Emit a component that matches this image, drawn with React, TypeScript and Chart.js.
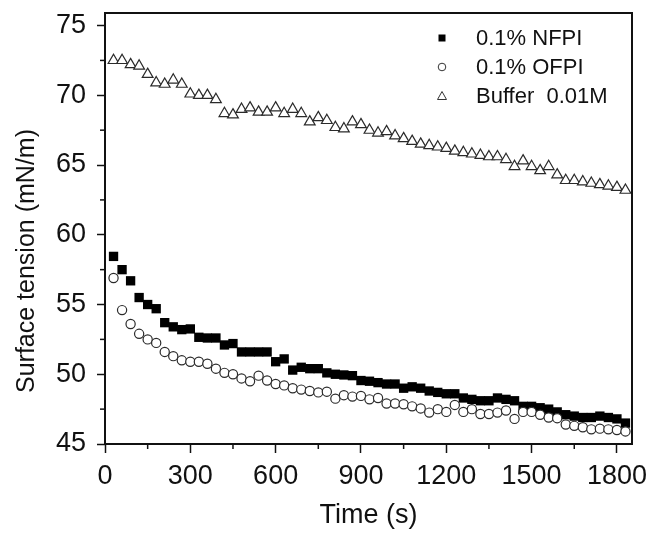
import React, { useEffect, useRef } from "react";
import { Chart, registerables } from "chart.js";

Chart.register(...registerables);

const TIMES = [
  30, 60, 90, 120, 150, 180, 210, 240, 270, 300, 330, 360, 390, 420, 450, 480, 510, 540, 570, 600,
  630, 660, 690, 720, 750, 780, 810, 840, 870, 900, 930, 960, 990, 1020, 1050, 1080, 1110, 1140,
  1170, 1200, 1230, 1260, 1290, 1320, 1350, 1380, 1410, 1440, 1470, 1500, 1530, 1560, 1590, 1620,
  1650, 1680, 1710, 1740, 1770, 1800, 1830,
];

const NFPI = [
  58.45, 57.5, 56.7, 55.5, 55.0, 54.7, 53.7, 53.4, 53.2, 53.25, 52.65, 52.6, 52.6, 52.1, 52.2, 51.6,
  51.6, 51.6, 51.6, 50.9, 51.1, 50.3, 50.5, 50.4, 50.4, 50.1, 50.0, 49.95, 49.9, 49.55, 49.5, 49.4,
  49.3, 49.3, 49.0, 49.1, 49.0, 48.8, 48.7, 48.6, 48.6, 48.3, 48.2, 48.1, 48.1, 48.3, 48.2, 48.1,
  47.7, 47.7, 47.6, 47.5, 47.3, 47.1, 47.0, 46.9, 46.9, 47.0, 46.9, 46.8, 46.5,
];

const OFPI = [
  56.9, 54.6, 53.6, 52.9, 52.5, 52.25, 51.6, 51.3, 51.0, 50.9, 50.9, 50.75, 50.4, 50.1, 50.0, 49.7,
  49.5, 49.9, 49.55, 49.3, 49.2, 49.0, 48.9, 48.8, 48.7, 48.75, 48.25, 48.5, 48.4, 48.45, 48.2, 48.3,
  47.9, 47.9, 47.85, 47.7, 47.55, 47.25, 47.5, 47.3, 47.8, 47.3, 47.5, 47.15, 47.15, 47.25, 47.4,
  46.8, 47.3, 47.3, 47.1, 46.9, 46.85, 46.4, 46.3, 46.2, 46.05, 46.1, 46.05, 46.0, 45.9,
];

const BUFFER = [
  72.5, 72.5, 72.2, 72.1, 71.5, 70.9, 70.8, 71.1, 70.8, 70.1, 70.0, 70.0, 69.7, 68.7, 68.6, 69.0,
  69.1, 68.8, 68.8, 69.1, 68.7, 69.0, 68.7, 68.1, 68.4, 68.2, 67.7, 67.6, 68.1, 67.9, 67.5, 67.3,
  67.4, 67.1, 66.9, 66.7, 66.5, 66.4, 66.3, 66.2, 66.0, 65.9, 65.8, 65.7, 65.6, 65.6, 65.4, 64.9,
  65.3, 64.9, 64.6, 64.9, 64.3, 63.9, 63.9, 63.8, 63.7, 63.6, 63.5, 63.4, 63.2,
];

const SERIES_LABELS = ["0.1% NFPI", "0.1% OFPI", "Buffer  0.01M"];
const X_TICKS = [0, 300, 600, 900, 1200, 1500, 1800];
const Y_TICKS = [45, 50, 55, 60, 65, 70, 75];
const X_TITLE = "Time (s)";
const Y_TITLE = "Surface tension (mN/m)";

const FONT = "'Liberation Sans', Arial, sans-serif";
const W = 649;
const H = 533;

const pts = (vals: number[]) => vals.map((v, i) => ({ x: TIMES[i], y: v }));

const framePlugin = {
  id: "frameAndMinor",
  afterDraw(chart: any) {
    const { ctx, chartArea: a } = chart;
    const xs = chart.scales.x;
    const ys = chart.scales.y;
    ctx.save();
    ctx.strokeStyle = "#111";
    ctx.lineWidth = 1.5;
    // minor ticks
    for (let i = 0; i < X_TICKS.length; i++) {
      const mid = X_TICKS[i] + (X_TICKS[1] - X_TICKS[0]) / 2;
      if (mid > xs.max) break;
      const px = xs.getPixelForValue(mid);
      ctx.beginPath();
      ctx.moveTo(px, a.bottom);
      ctx.lineTo(px, a.bottom + 5);
      ctx.stroke();
    }
    for (let i = 0; i < Y_TICKS.length; i++) {
      const mid = Y_TICKS[i] + (Y_TICKS[1] - Y_TICKS[0]) / 2;
      if (mid > ys.max) break;
      const py = ys.getPixelForValue(mid);
      ctx.beginPath();
      ctx.moveTo(a.left, py);
      ctx.lineTo(a.left - 5, py);
      ctx.stroke();
    }
    // frame
    ctx.lineWidth = 2;
    ctx.strokeStyle = "#111";
    ctx.strokeRect(a.left, a.top, a.right - a.left, a.bottom - a.top);

    // y axis title (centred on the full figure height, as in the original)
    ctx.save();
    ctx.translate(27, 261);
    ctx.rotate(-Math.PI / 2);
    ctx.font = `25px ${FONT}`;
    ctx.textAlign = "center";
    ctx.textBaseline = "middle";
    ctx.fillStyle = "#111";
    ctx.fillText(Y_TITLE, 0, 0);
    ctx.restore();

    // legend
    const mx = a.left + 337;
    const tx = a.left + 371;
    const rows = [a.top + 25, a.top + 54, a.top + 83];
    ctx.font = `22px ${FONT}`;
    ctx.textBaseline = "middle";
    ctx.textAlign = "left";
    ctx.fillStyle = "#000";
    ctx.fillRect(mx - 3.5, rows[0] - 3.5, 7, 7);
    ctx.beginPath();
    ctx.lineWidth = 1;
    ctx.strokeStyle = "#333";
    ctx.fillStyle = "#fff";
    ctx.arc(mx, rows[1], 3.8, 0, Math.PI * 2);
    ctx.fill();
    ctx.stroke();
    ctx.beginPath();
    ctx.moveTo(mx, rows[2] - 4.5);
    ctx.lineTo(mx + 4.5, rows[2] + 3.5);
    ctx.lineTo(mx - 4.5, rows[2] + 3.5);
    ctx.closePath();
    ctx.fill();
    ctx.stroke();
    ctx.fillStyle = "#111";
    SERIES_LABELS.forEach((t, i) => ctx.fillText(t, tx, rows[i] + 1));
    ctx.restore();
  },
};

export default function App() {
  const ref = useRef<HTMLCanvasElement | null>(null);
  useEffect(() => {
    if (!ref.current) return;
    const chart = new Chart(ref.current, {
      type: "scatter",
      data: {
        datasets: [
          {
            label: SERIES_LABELS[0],
            data: pts(NFPI),
            pointStyle: "rect",
            pointRadius: 6.6,
            pointHoverRadius: 6.6,
            backgroundColor: "#000",
            borderColor: "#000",
            borderWidth: 0,
            order: 1,
          },
          {
            label: SERIES_LABELS[1],
            data: pts(OFPI),
            pointStyle: "circle",
            pointRadius: 4.6,
            pointHoverRadius: 4.6,
            backgroundColor: "#fff",
            borderColor: "#2a2a2a",
            borderWidth: 1.2,
            order: 0,
          },
          {
            label: SERIES_LABELS[2],
            data: pts(BUFFER),
            pointStyle: "triangle",
            pointRadius: 6.2,
            pointHoverRadius: 6.2,
            backgroundColor: "#fff",
            borderColor: "#2a2a2a",
            borderWidth: 1.2,
            order: 2,
          },
        ],
      },
      options: {
        responsive: false,
        animation: false,
        events: [],
        layout: { padding: { left: 0, top: 13, right: 17, bottom: 0 } },
        plugins: {
          legend: { display: false },
          tooltip: { enabled: false },
        },
        scales: {
          x: {
            type: "linear",
            min: 0,
            max: 1853,
            afterBuildTicks: (s: any) => {
              s.ticks = X_TICKS.map((v) => ({ value: v }));
            },
            afterFit: (s: any) => {
              s.height = 89;
              s.paddingLeft = 0;
              s.paddingRight = 0;
            },
            grid: {
              drawOnChartArea: false,
              drawTicks: true,
              tickLength: 9,
              tickColor: "#111",
              tickWidth: 1.5,
            },
            border: { display: false },
            ticks: {
              color: "#111",
              padding: 7,
              maxRotation: 0,
              autoSkip: false,
              font: { family: FONT, size: 27 },
              callback: (v: any) => String(v),
            },
            title: {
              display: true,
              text: X_TITLE,
              color: "#111",
              font: { family: FONT, size: 27 },
              padding: { top: 0, bottom: 1 },
            },
          },
          y: {
            type: "linear",
            min: 45,
            max: 75.9,
            afterBuildTicks: (s: any) => {
              s.ticks = Y_TICKS.map((v) => ({ value: v }));
            },
            afterFit: (s: any) => {
              s.width = 105;
              s.paddingTop = 0;
              s.paddingBottom = 0;
            },
            grid: {
              drawOnChartArea: false,
              drawTicks: true,
              tickLength: 8,
              tickColor: "#111",
              tickWidth: 1.5,
            },
            border: { display: false },
            ticks: {
              color: "#111",
              padding: 11,
              autoSkip: false,
              font: { family: FONT, size: 27 },
              callback: (v: any) => String(v),
            },
            title: { display: false },
          },
        },
      },
      plugins: [framePlugin],
    });
    return () => chart.destroy();
  }, []);

  return (
    <div style={{ position: "fixed", left: 0, top: 0, width: W, height: H, background: "#fff" }}>
      <canvas ref={ref} width={W} height={H} style={{ display: "block", width: W, height: H }} />
    </div>
  );
}
